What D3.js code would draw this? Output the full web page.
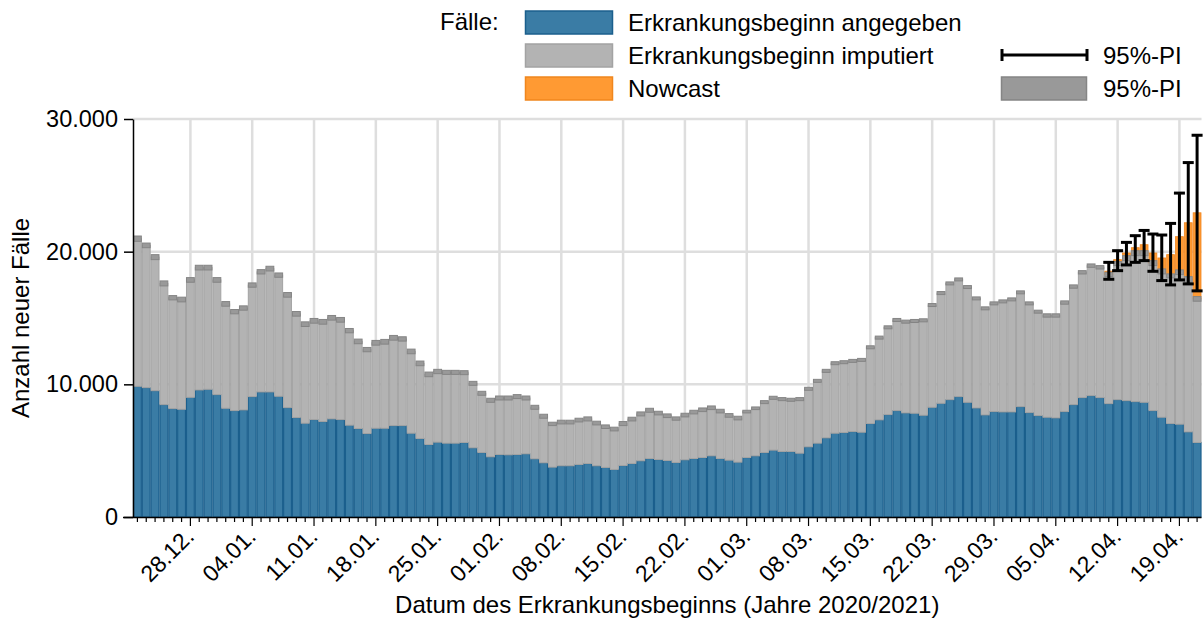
<!DOCTYPE html>
<html>
<head>
<meta charset="utf-8">
<script src="https://cdn.jsdelivr.net/npm/d3@7"></script>
<style>
  body { margin: 0; background: #fff; }
  svg { font-family: "Liberation Sans", Arial, sans-serif; }
</style>
</head>
<body>
<svg id="chart" width="1203" height="618"></svg>
<script>
// --- data ------------------------------------------------------------------
// one bar per day, 22.12.2020 .. 21.04.2021
var startDay = new Date(2020, 11, 22)
var endDay = new Date(2021, 3, 22)

// Erkrankungsbeginn angegeben
var angegeben = [
  9850, 9750, 9520, 8470, 8170, 8120, 9020, 9575, 9625, 9225,
  8195, 8020, 8070, 9075, 9425, 9425, 9100, 8245, 7495, 7070,
  7345, 7195, 7395, 7345, 6920, 6670, 6290, 6690, 6690, 6890,
  6890, 6315, 5915, 5465, 5640, 5565, 5565, 5615, 5215, 4860,
  4535, 4710, 4685, 4710, 4760, 4385, 4085, 3760, 3860, 3860,
  3960, 4035, 3860, 3735, 3585, 3885, 4035, 4235, 4410, 4335,
  4260, 4110, 4310, 4410, 4485, 4610, 4410, 4285, 4135, 4485,
  4610, 4860, 5040, 4935, 4935, 4810, 5290, 5565, 5965, 6315,
  6365, 6440, 6390, 7045, 7320, 7720, 8020, 7845, 7820, 7670,
  8270, 8570, 8845, 9075, 8645, 8220, 7695, 7945, 7920, 7920,
  8320, 7870, 7645, 7520, 7470, 7945, 8470, 9000, 9150, 9000,
  8545, 8845, 8770, 8695, 8645, 8020, 7520, 7045, 6995, 6415,
  5615
]

// Erkrankungsbeginn imputiert (stacked on top of angegeben)
var imputiert = [
  11130, 10725, 10070, 9140, 8360, 8270, 8850, 9225, 9175, 8645,
  7870, 7460, 7680, 8405, 9055, 9295, 9130, 8500, 7820, 7465,
  7445, 7515, 7620, 7515, 7130, 6565, 6330, 6440, 6520, 6620,
  6530, 6165, 5665, 5285, 5330, 5335, 5335, 5265, 4860, 4465,
  4265, 4260, 4285, 4365, 4210, 3885, 3510, 3255, 3295, 3295,
  3345, 3355, 3220, 3070, 3045, 3155, 3345, 3535, 3635, 3495,
  3370, 3310, 3370, 3495, 3595, 3620, 3570, 3370, 3320, 3460,
  3585, 3795, 3945, 3950, 3900, 4075, 4370, 4695, 5050, 5275,
  5300, 5325, 5450, 5745, 6200, 6575, 6830, 6880, 6955, 7155,
  7705, 8310, 8760, 8830, 8685, 8255, 8030, 8155, 8330, 8480,
  8610, 8230, 7830, 7670, 7720, 8220, 8900, 9445, 9795, 9820,
  9735, 10255, 10740, 11195, 11245, 11120, 10990, 11130, 11455, 11490,
  10825
]

// 95%-PI of the imputed total (angegeben + imputiert)
var piLow = [
  20780, 20300, 19400, 17420, 16365, 16215, 17695, 18620, 18620, 17695,
  15890, 15315, 15590, 17320, 18320, 18545, 18070, 16570, 15140, 14360,
  14610, 14535, 14840, 14685, 13885, 13060, 12455, 12955, 13030, 13330,
  13260, 12305, 11405, 10575, 10805, 10750, 10750, 10730, 9925, 9175,
  8645, 8820, 8820, 8925, 8820, 8120, 7445, 6890, 7015, 7015,
  7165, 7240, 6940, 6670, 6490, 6890, 7240, 7620, 7895, 7695,
  7495, 7295, 7545, 7770, 7945, 8095, 7845, 7520, 7320, 7845,
  8095, 8545, 8870, 8770, 8720, 8770, 9550, 10150, 10900, 11480,
  11555, 11655, 11730, 12680, 13410, 14185, 14735, 14610, 14660, 14710,
  15865, 16765, 17495, 17795, 17220, 16365, 15615, 15990, 16140, 16290,
  16820, 15990, 15365, 15065, 15065, 16040, 17245, 18320, 18820, 18695,
  18120, 18950, 19325, 19700, 19700, 18950, 18325, 18025, 18270, 17690,
  16265
]
var piHigh = [
  21180, 20650, 19775, 17795, 16690, 16570, 18045, 18975, 18975, 18045,
  16240, 15640, 15915, 17645, 18645, 18900, 18395, 16920, 15490, 14710,
  14965, 14890, 15190, 15040, 14210, 13410, 12780, 13310, 13385, 13685,
  13585, 12655, 11755, 10925, 11130, 11055, 11055, 11030, 10225, 9475,
  8950, 9120, 9120, 9225, 9120, 8420, 7745, 7145, 7295, 7295,
  7445, 7545, 7220, 6940, 6770, 7195, 7520, 7920, 8195, 7970,
  7770, 7545, 7820, 8045, 8220, 8370, 8120, 7795, 7595, 8045,
  8295, 8770, 9100, 9000, 8950, 9000, 9775, 10375, 11130, 11705,
  11780, 11880, 11955, 12905, 13635, 14410, 14965, 14840, 14890, 14940,
  16090, 16995, 17720, 18020, 17445, 16590, 15840, 16215, 16365, 16515,
  17045, 16215, 15590, 15315, 15315, 16290, 17495, 18570, 19075, 18950,
  18445, 19250, 19700, 20075, 20075, 19325, 18700, 18325, 18625, 18120,
  16615
]

// Nowcast for the last 11 days (11.04. .. 21.04.), stacked on top
var nowcastDays = ["11.04.", "12.04.", "13.04.", "14.04.", "15.04.", "16.04.",
                   "17.04.", "18.04.", "19.04.", "20.04.", "21.04."]
var nowcast = [250, 300, 390, 410, 635, 760, 1015, 1600, 2680, 4275, 6490]
var nowcastLow = [17920, 18570, 19000, 19195, 19325, 18520, 17820, 17495, 17870, 17570, 17045]
var nowcastHigh = [19195, 20075, 20700, 21205, 21600, 21330, 21255, 22130, 24415, 26715, 28775]

var xTickLabels = ["28.12.", "04.01.", "11.01.", "18.01.", "25.01.", "01.02.", "08.02.",
                   "15.02.", "22.02.", "01.03.", "08.03.", "15.03.", "22.03.", "29.03.",
                   "05.04.", "12.04.", "19.04."]
var yTicks = [0, 10000, 20000, 30000]

// --- setup -------------------------------------------------------------------
var colBlue = '#3a7ca5', colBlueLine = '#1b5f8d'
var colGray = '#b3b3b3', colGrayLine = '#a3a3a3'
var colOrange = '#ff9a33', colOrangeLine = '#f0861e'
var colPI = '#999999', colPILine = '#858585'

var svg = d3.select('#chart')
var fmtDay = d3.timeFormat('%d.%m.')
var de = d3.formatLocale({ decimal: ',', thousands: '.', grouping: [3], currency: ['', ' €'] })

var days = d3.timeDay.range(startDay, endDay).map(fmtDay)

// plot box (note: "top" is reserved on window, so prefixed names)
var pLeft = 133, pRight = 1201.5, pTop = 119, pBottom = 517

var x = d3.scaleBand().domain(days).range([pLeft, pRight]).padding(0)
var y = d3.scaleLinear().domain([0, 30000]).range([pBottom, pTop])

var rows = days.map(function(d, i) {
  var k = nowcastDays.indexOf(d)
  return {
    day: d,
    blue: angegeben[i],
    total: angegeben[i] + imputiert[i],
    lo: piLow[i],
    hi: piHigh[i],
    now: k >= 0 ? nowcast[k] : 0,
    nLo: k >= 0 ? nowcastLow[k] : null,
    nHi: k >= 0 ? nowcastHigh[k] : null
  }
})

// grid
var grid = svg.append('g').attr('stroke', '#dedede').attr('stroke-width', 2.5)
grid.selectAll('.hg').data(yTicks.filter(function(t) { return t > 0 })).enter()
  .append('line')
  .attr('x1', pLeft).attr('x2', pRight)
  .attr('y1', function(d) { return y(d) }).attr('y2', function(d) { return y(d) })
grid.selectAll('.vg').data(xTickLabels).enter()
  .append('line')
  .attr('x1', function(d) { return x(d) + x.bandwidth() / 2 })
  .attr('x2', function(d) { return x(d) + x.bandwidth() / 2 })
  .attr('y1', pTop).attr('y2', pBottom)

// bars
var bars = svg.append('g')
var bw = x.bandwidth()

bars.selectAll('.blue').data(rows).enter().append('rect')
  .attr('x', function(d) { return x(d.day) + 0.5 })
  .attr('width', bw - 1)
  .attr('y', function(d) { return y(d.blue) })
  .attr('height', function(d) { return y(0) - y(d.blue) })
  .attr('fill', colBlue).attr('stroke', colBlueLine).attr('stroke-width', 1.2)

bars.selectAll('.gray').data(rows).enter().append('rect')
  .attr('x', function(d) { return x(d.day) + 0.5 })
  .attr('width', bw - 1)
  .attr('y', function(d) { return y(d.total) })
  .attr('height', function(d) { return y(d.blue) - y(d.total) })
  .attr('fill', colGray).attr('stroke', colGrayLine).attr('stroke-width', 1)

bars.selectAll('.now').data(rows.filter(function(d) { return d.now > 0 })).enter().append('rect')
  .attr('x', function(d) { return x(d.day) + 0.5 })
  .attr('width', bw - 1)
  .attr('y', function(d) { return y(d.total + d.now) })
  .attr('height', function(d) { return y(d.total) - y(d.total + d.now) })
  .attr('fill', colOrange).attr('stroke', colOrangeLine).attr('stroke-width', 0.8)

// 95%-PI of imputation
bars.selectAll('.pi').data(rows).enter().append('rect')
  .attr('x', function(d) { return x(d.day) + 0.5 })
  .attr('width', bw - 1)
  .attr('y', function(d) { return y(d.hi) })
  .attr('height', function(d) { return y(d.lo) - y(d.hi) })
  .attr('fill', colPI).attr('stroke', colPILine).attr('stroke-width', 1)

// nowcast error bars
var eb = svg.append('g').attr('stroke', '#000').attr('stroke-width', 3)
var ebRows = rows.filter(function(d) { return d.nLo != null })
var cx = function(d) { return x(d.day) + bw / 2 }
eb.selectAll('.v').data(ebRows).enter().append('line')
  .attr('x1', cx).attr('x2', cx)
  .attr('y1', function(d) { return y(d.nLo) }).attr('y2', function(d) { return y(d.nHi) })
eb.selectAll('.t').data(ebRows).enter().append('line')
  .attr('x1', function(d) { return cx(d) - 5.5 }).attr('x2', function(d) { return cx(d) + 5.5 })
  .attr('y1', function(d) { return y(d.nHi) }).attr('y2', function(d) { return y(d.nHi) })
eb.selectAll('.b').data(ebRows).enter().append('line')
  .attr('x1', function(d) { return cx(d) - 5.5 }).attr('x2', function(d) { return cx(d) + 5.5 })
  .attr('y1', function(d) { return y(d.nLo) }).attr('y2', function(d) { return y(d.nLo) })

// axes
var yAxis = svg.append('g')
  .attr('transform', 'translate(' + pLeft + ',0)')
  .call(d3.axisLeft(y).tickValues(yTicks).tickSize(9).tickSizeOuter(0).tickPadding(6)
    .tickFormat(de.format(',')))
yAxis.select('.domain').attr('stroke-width', 1.5)
yAxis.selectAll('.tick line').attr('stroke-width', 1.5)
yAxis.selectAll('text').attr('font-size', 23.5).attr('fill', '#000')
  .style('font-family', '"Liberation Sans", Arial, sans-serif')

var xAxis = svg.append('g')
  .attr('transform', 'translate(0,' + pBottom + ')')
  .call(d3.axisBottom(x).tickSize(4).tickSizeOuter(0)
    .tickFormat(function(d) { return xTickLabels.indexOf(d) >= 0 ? d : '' }))
xAxis.select('.domain').attr('d', 'M' + (pLeft - 10) + ',0.5H' + pRight).attr('stroke-width', 1.5)
xAxis.selectAll('.tick line')
  .attr('stroke-width', 1.2)
  .attr('y2', function(d) { return xTickLabels.indexOf(d) >= 0 ? 9 : 5 })
xAxis.selectAll('.tick text')
  .attr('font-size', 23).attr('fill', '#000')
  .style('font-family', '"Liberation Sans", Arial, sans-serif')
  .attr('text-anchor', 'end')
  .attr('dy', 0)
  .attr('transform', 'translate(5,21) rotate(-45)')
  .attr('y', 0).attr('x', 0)

// axis titles
svg.append('text')
  .attr('x', (pLeft + pRight) / 2).attr('y', 613)
  .attr('text-anchor', 'middle').attr('font-size', 24)
  .text('Datum des Erkrankungsbeginns (Jahre 2020/2021)')
svg.append('text')
  .attr('transform', 'translate(29,' + (pTop + pBottom) / 2 + ') rotate(-90)')
  .attr('text-anchor', 'middle').attr('font-size', 24)
  .text('Anzahl neuer Fälle')

// legend
var leg = svg.append('g').attr('font-size', 24)
leg.append('text').attr('x', 440).attr('y', 30).text('Fälle:')
var legItems = [
  { label: 'Erkrankungsbeginn angegeben', fill: colBlue, stroke: colBlueLine },
  { label: 'Erkrankungsbeginn imputiert', fill: colGray, stroke: colGrayLine },
  { label: 'Nowcast', fill: colOrange, stroke: colOrangeLine }
]
legItems.forEach(function(it, i) {
  var yy = 11 + i * 33
  leg.append('rect').attr('x', 525.5).attr('y', yy).attr('width', 87).attr('height', 23)
    .attr('fill', it.fill).attr('stroke', it.stroke).attr('stroke-width', 1.5)
  leg.append('text').attr('x', 628).attr('y', yy + 20).text(it.label)
})
var lg = leg.append('g').attr('stroke', '#000').attr('stroke-width', 3)
lg.append('line').attr('x1', 1002).attr('x2', 1087).attr('y1', 55).attr('y2', 55)
lg.append('line').attr('x1', 1002).attr('x2', 1002).attr('y1', 49).attr('y2', 61)
lg.append('line').attr('x1', 1087).attr('x2', 1087).attr('y1', 49).attr('y2', 61)
leg.append('text').attr('x', 1103).attr('y', 64).text('95%-PI')
leg.append('rect').attr('x', 1001.5).attr('y', 77).attr('width', 85).attr('height', 23)
  .attr('fill', colPI).attr('stroke', colPILine).attr('stroke-width', 1.5)
leg.append('text').attr('x', 1103).attr('y', 97).text('95%-PI')
</script>
</body>
</html>
